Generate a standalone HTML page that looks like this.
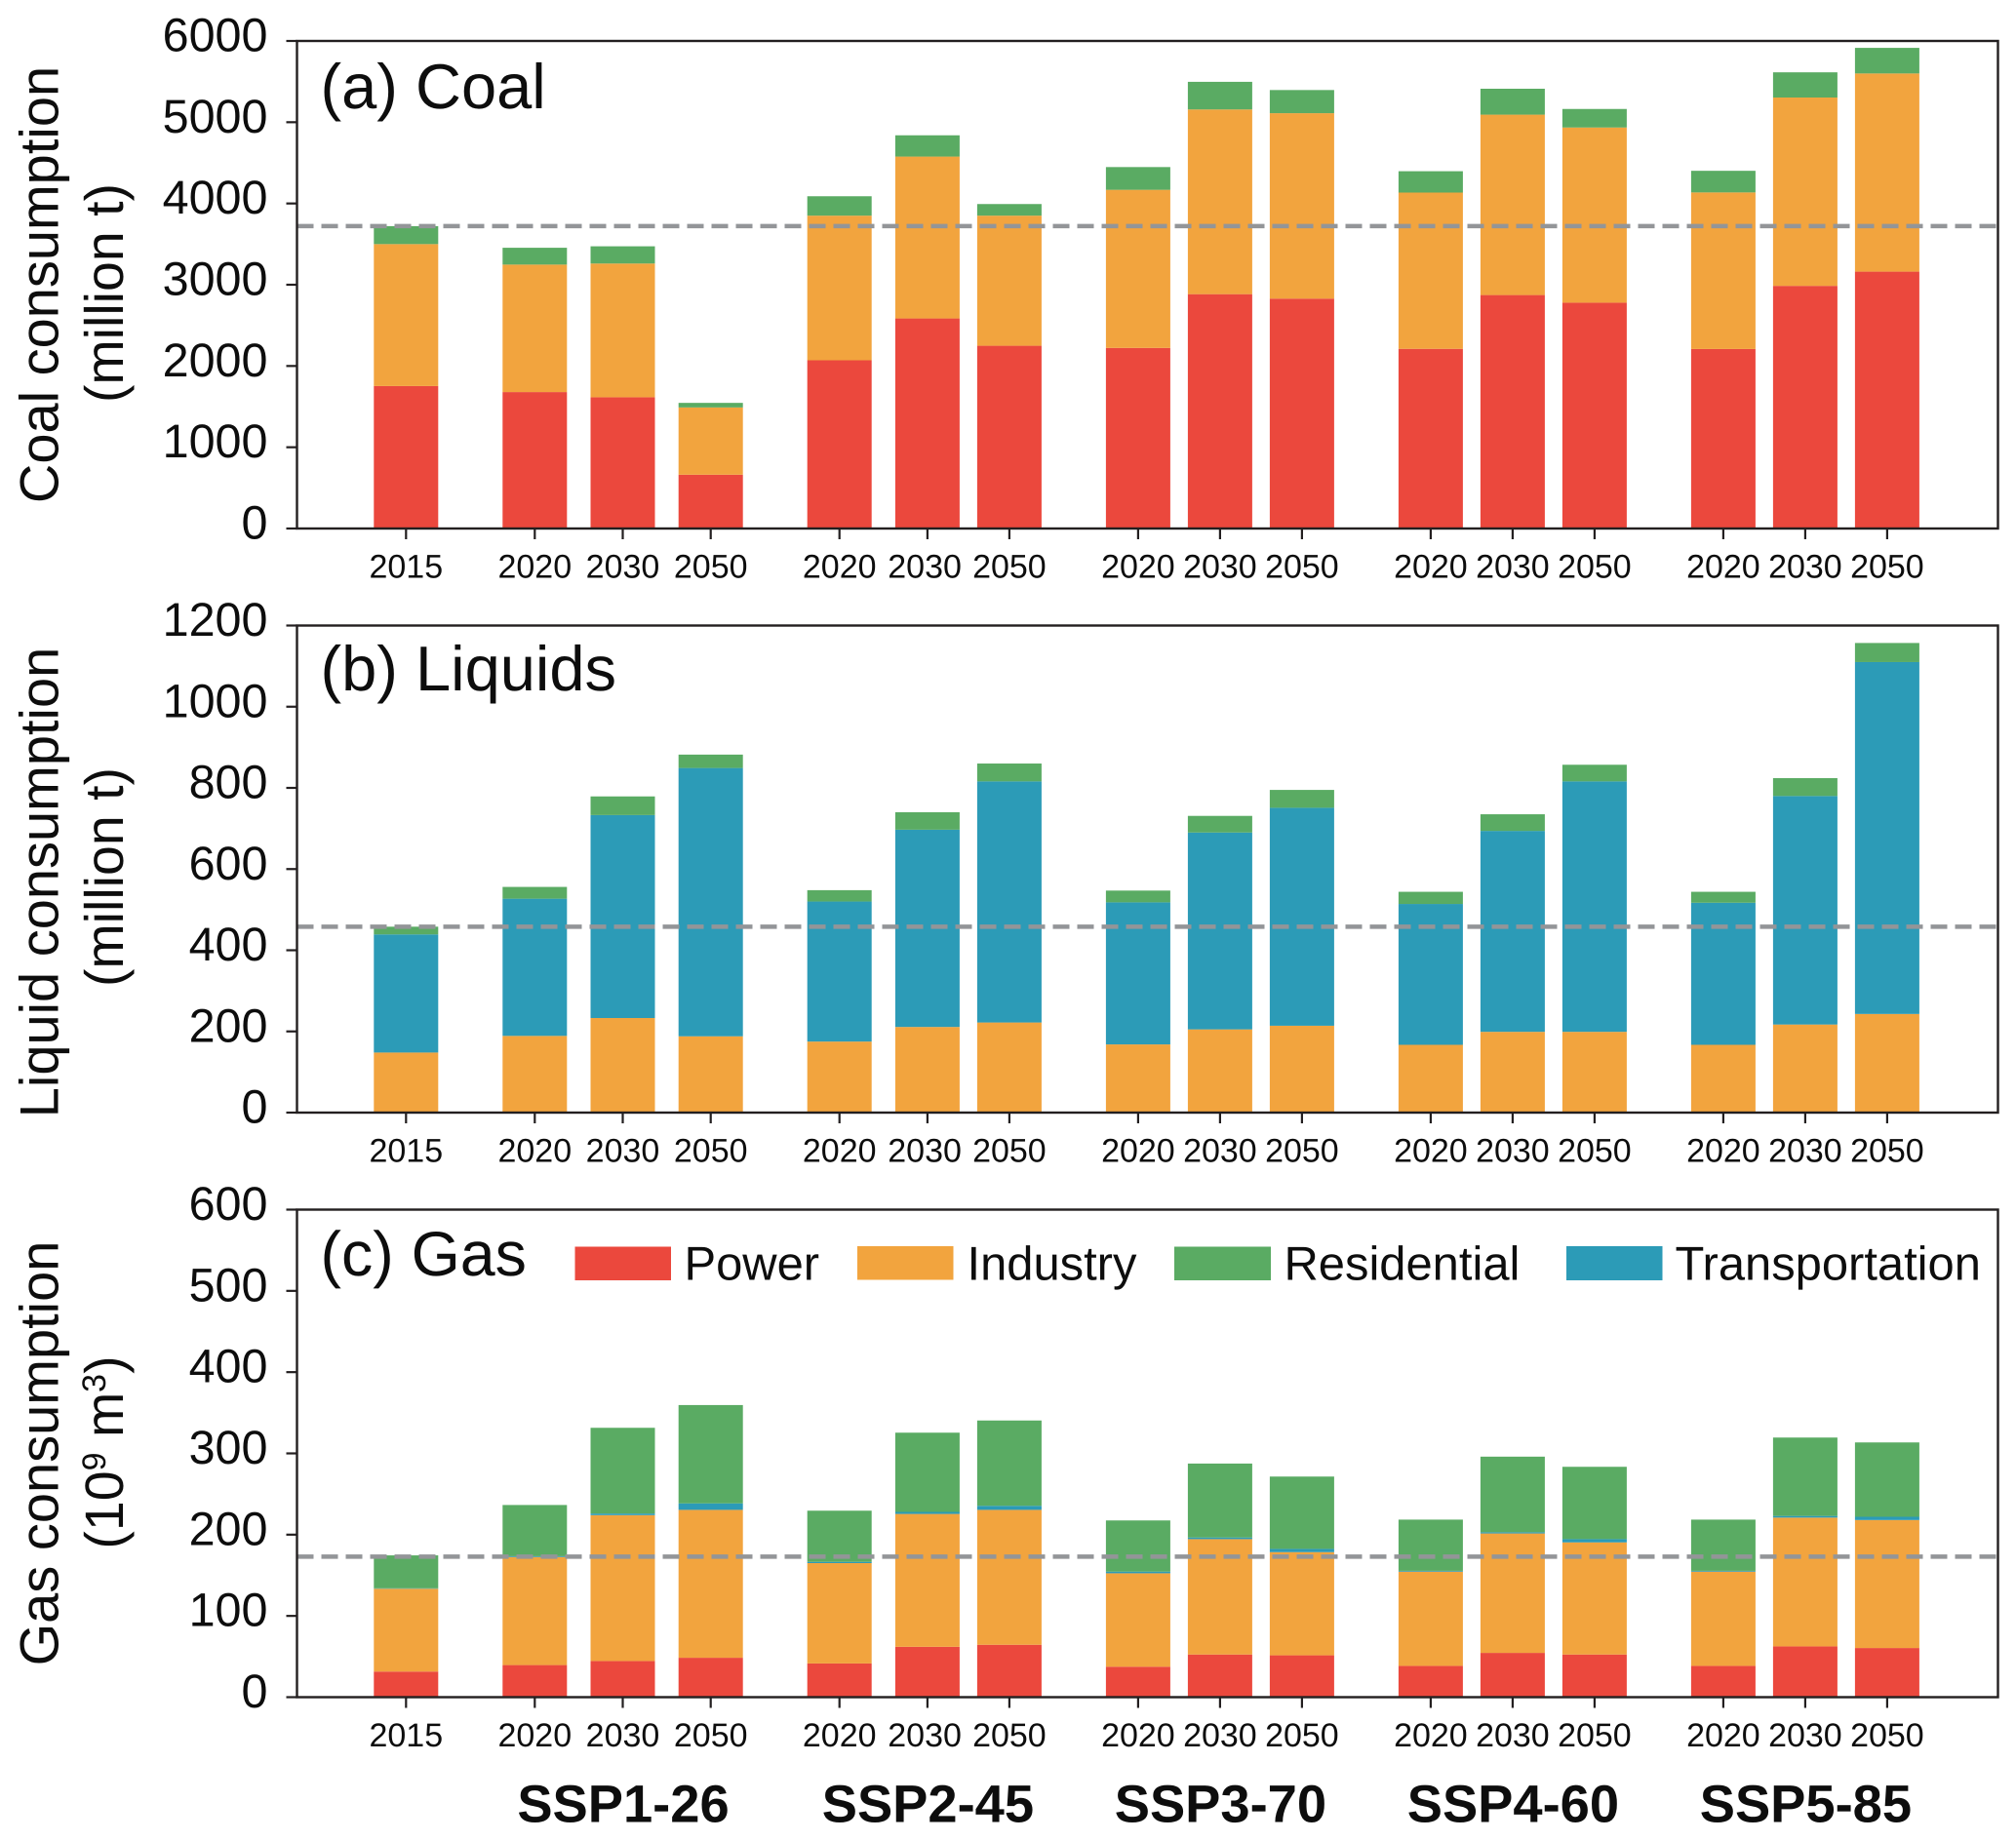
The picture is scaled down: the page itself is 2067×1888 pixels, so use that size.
<!DOCTYPE html>
<html lang="en">
<head>
<meta charset="utf-8">
<title>Coal, liquid and gas consumption by SSP scenario</title>
<style>
html,body{margin:0;padding:0;background:#fff;}
svg{display:block;}
text{font-family:"Liberation Sans",Arial,sans-serif;fill:#0d0d0d;text-rendering:geometricPrecision;}
</style>
</head>
<body>
<svg id="chart" xmlns="http://www.w3.org/2000/svg" width="2067" height="1888" viewBox="0 0 2067 1888">
  <rect x="0" y="0" width="2067" height="1888" fill="#ffffff"/>

  <g id="panel-a"></g>
  <g id="panel-b"></g>
  <g id="panel-c"></g>

  <text x="328.5" y="111" font-size="65">(a) Coal</text>
  <text x="328.5" y="708" font-size="65">(b) Liquids</text>
  <text x="328.5" y="1308" font-size="64.5">(c) Gas</text>

  <text transform="translate(59.5,292) rotate(-90)" text-anchor="middle" font-size="56">Coal consumption</text>
  <text transform="translate(126,300.5) rotate(-90)" text-anchor="middle" font-size="55.5">(million t)</text>
  <text transform="translate(59.5,905) rotate(-90)" text-anchor="middle" font-size="56">Liquid consumption</text>
  <text transform="translate(126,899.5) rotate(-90)" text-anchor="middle" font-size="55.5">(million t)</text>
  <text transform="translate(59.5,1490.5) rotate(-90)" text-anchor="middle" font-size="56">Gas consumption</text>
  <text transform="translate(126,1489.5) rotate(-90)" text-anchor="middle" font-size="55.5">(10<tspan font-size="34" dy="-18">9</tspan><tspan dy="18"> m</tspan><tspan font-size="34" dy="-18">3</tspan><tspan dy="18">)</tspan></text>

  <g>
    <rect x="589.5" y="1278.5" width="98.5" height="34.5" fill="#EB483D"/>
    <text x="701.5" y="1312.5" font-size="48.9">Power</text>
    <rect x="879" y="1278" width="98.5" height="34.5" fill="#F2A43E"/>
    <text x="991.5" y="1312.5" font-size="48.9">Industry</text>
    <rect x="1204" y="1278.5" width="99" height="34.5" fill="#5AAB63"/>
    <text x="1316.5" y="1312.5" font-size="48.9">Residential</text>
    <rect x="1606" y="1278" width="98.5" height="35" fill="#2C9BB7"/>
    <text x="1717.5" y="1312.5" font-size="48.9">Transportation</text>
  </g>

  <g id="scenario-labels"></g>
</svg>

<script>
// ---- Categories ----
const years = ["2015","2020","2030","2050","2020","2030","2050","2020","2030","2050","2020","2030","2050","2020","2030","2050"];
const scenarioOfBar = ["Base","SSP1","SSP1","SSP1","SSP2","SSP2","SSP2","SSP3","SSP3","SSP3","SSP4","SSP4","SSP4","SSP5","SSP5","SSP5"];
const scenarioLabels = ["SSP1-26","SSP2-45","SSP3-70","SSP4-60","SSP5-85"];

// ---- Coal (million t) ----
const coalPower       = [1753,1679,1615,662,2070,2585,2249,2222,2884,2829,2211,2873,2779,2209,2986,3161];
const coalIndustry    = [1747,1569,1646,828,1780,1992,1601,1946,2273,2282,1923,2220,2156,1927,2318,2439];
const coalResidential = [221,207,212,56,239,262,143,280,340,285,263,319,228,266,310,315];
const coalTicks = [0,1000,2000,3000,4000,5000,6000];
const coalBaseline = 3721;

// ---- Liquids (million t) ----
const liquidIndustry       = [148,189,233,188,175,211,222,168,205,214,167,199,199,167,217,243];
const liquidTransportation = [291,338,500,661,345,486,594,350,485,537,347,495,617,350,563,867];
const liquidResidential    = [19,29,46,33,28,43,44,29,41,44,30,41,41,27,44,47];
const liquidTicks = [0,200,400,600,800,1000,1200];
const liquidBaseline = 458;

// ---- Gas (10^9 m3) ----
const gasPower          = [31.5,39.5,44.5,48.5,41.5,62,64.5,37.5,52.5,51.5,38.5,54.5,52.5,38.5,62.5,60.5];
const gasIndustry       = [102,133,179.5,182,123.5,163.5,166,115,142,127,116,147,138,116,158.5,157.5];
const gasTransportation = [0.5,1,2,8,1.5,2.5,5,2,2,4,1,1.5,4,1,2,4];
const gasResidential    = [40.5,63,105.5,121,63,97.5,105,63,91,89,63,93,89,63,96.5,91.5];
const gasTicks = [0,100,200,300,400,500,600];
const gasBaseline = 173;

// ---- Layout & style ----
const NS = "http://www.w3.org/2000/svg";
const plotLeft = 304.5, plotRight = 2048.5;
const barWidth = 66, tickLen = 11;
const axisColor = "#231f20";
const palette = {power:"#EB483D",industry:"#F2A43E",residential:"#5AAB63",transportation:"#2C9BB7"};

// categorical x axis: bars step by a within-scenario gap, scenarios by a larger gap
function xAxis(i){
  let x = 416.3;
  for(let k = 1; k <= i; k++){
    if(scenarioOfBar[k] !== scenarioOfBar[k-1]) x += 132;
    else if(k <= 3 || k === 5) x += 90.2;
    else x += 84;
  }
  return x;
}
function makeYAxis(top,bottom,max){
  return function(v){ return bottom - (v/max)*(bottom-top); };
}
function el(tag,attrs){
  const n = document.createElementNS(NS,tag);
  for(const k in attrs) n.setAttribute(k,attrs[k]);
  return n;
}

function drawPanel(opts){
  const root = document.getElementById(opts.id);
  const y = makeYAxis(opts.top,opts.bottom,opts.ticks[opts.ticks.length-1]);

  // stacked bars
  years.forEach(function(year,i){
    let cum = 0;
    opts.series.forEach(function(s){
      const v = s.values[i];
      const yTop = y(cum+v), yBot = y(cum);
      const r = el("rect",{x:xAxis(i)-barWidth/2,y:yTop,width:barWidth,height:yBot-yTop,fill:palette[s.key]});
      
      
      root.appendChild(r);
      cum += v;
    });
  });

  // dashed 2015 reference line
  const by = y(opts.baseline);
  const dash = el("line",{x1:plotLeft,x2:plotRight,y1:by,y2:by,stroke:"#939598","stroke-width":4.5,"stroke-dasharray":"17 8"});
  
  
  root.appendChild(dash);

  // frame
  const frame = el("rect",{x:plotLeft,y:opts.top,width:plotRight-plotLeft,height:opts.bottom-opts.top,fill:"none",stroke:axisColor,"stroke-width":2.4});
  
  
  root.appendChild(frame);

  // y ticks + labels
  opts.ticks.forEach(function(t){
    const ty = y(t);
    const tick = el("line",{x1:plotLeft-tickLen,x2:plotLeft,y1:ty,y2:ty,stroke:axisColor,"stroke-width":2.2});
    
    
    root.appendChild(tick);
    const lab = el("text",{x:274.5,y:ty+10.5,"text-anchor":"end","font-size":48.5});
    
    
    lab.textContent = t;
    root.appendChild(lab);
  });

  // x ticks + labels (the SSP2 2030 label sits slightly left of its tick in the source)
  years.forEach(function(year,i){
    const tx = xAxis(i);
    const tick = el("line",{x1:tx,x2:tx,y1:opts.bottom,y2:opts.bottom+tickLen,stroke:axisColor,"stroke-width":2.2});
    
    
    root.appendChild(tick);
    const lab = el("text",{x:tx-(i===5?2.8:0),y:opts.bottom+50.5,"text-anchor":"middle","font-size":34});
    
    
    lab.textContent = year;
    root.appendChild(lab);
  });
}

drawPanel({id:"panel-a",top:42,bottom:542,ticks:coalTicks,baseline:coalBaseline,series:[
  {key:"power",values:coalPower},{key:"industry",values:coalIndustry},{key:"residential",values:coalResidential}]});
drawPanel({id:"panel-b",top:641.5,bottom:1141,ticks:liquidTicks,baseline:liquidBaseline,series:[
  {key:"industry",values:liquidIndustry},{key:"transportation",values:liquidTransportation},{key:"residential",values:liquidResidential}]});
drawPanel({id:"panel-c",top:1240.5,bottom:1740.5,ticks:gasTicks,baseline:gasBaseline,series:[
  {key:"power",values:gasPower},{key:"industry",values:gasIndustry},{key:"transportation",values:gasTransportation},{key:"residential",values:gasResidential}]});

// scenario names centred under each scenario's middle bar
(function(){
  const holder = document.getElementById("scenario-labels");
  scenarioLabels.forEach(function(name,s){
    const barIndex = 2 + s*3;
    const t = el("text",{x:xAxis(barIndex)+0.5,y:1868.5,"text-anchor":"middle","font-size":54.3,"font-weight":"bold"});
    
    
    t.textContent = name;
    holder.appendChild(t);
  });
})();
</script>
</body>
</html>
